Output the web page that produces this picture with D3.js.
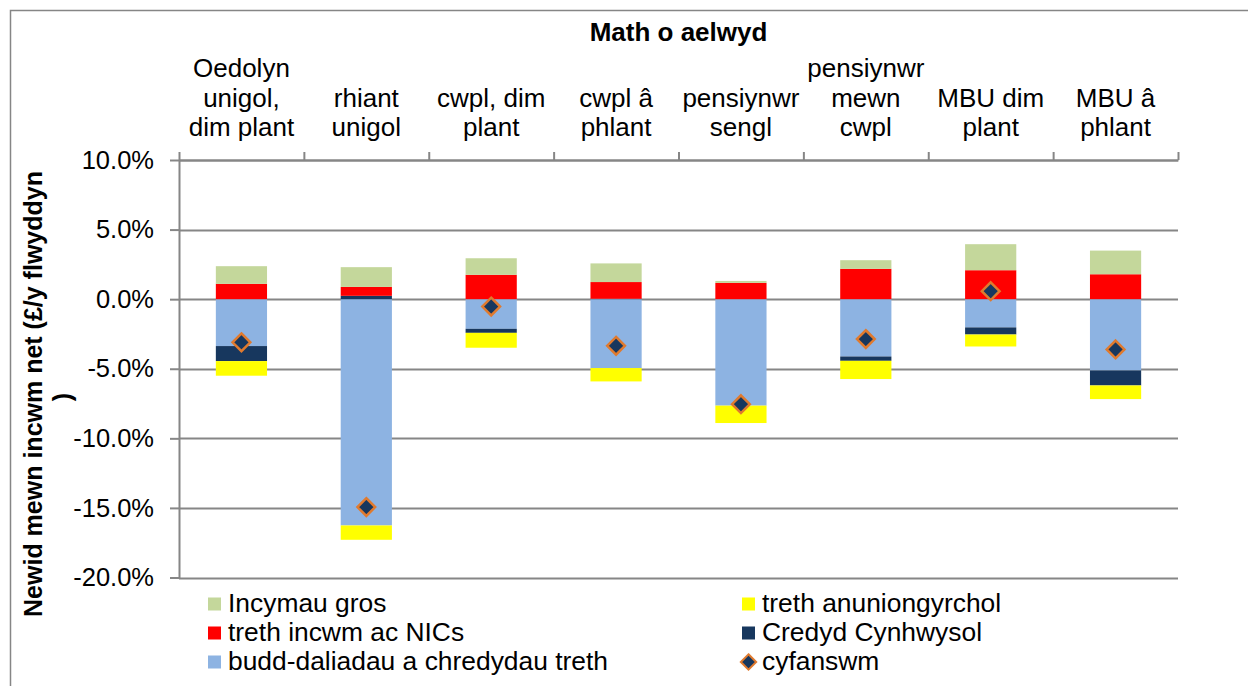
<!DOCTYPE html>
<html>
<head>
<meta charset="utf-8">
<script src="https://cdn.jsdelivr.net/npm/d3@7"></script>
<style>
  body { margin: 0; background: #fff; }
  svg { display: block; font-family: "Liberation Sans", Arial, sans-serif; }
</style>
</head>
<body>
<svg width="1248" height="686"></svg>
<script>
// categories (household type), each split into display lines
var categories = [
  ["Oedolyn", "unigol,", "dim plant"],
  ["rhiant", "unigol"],
  ["cwpl, dim", "plant"],
  ["cwpl \u00e2", "phlant"],
  ["pensiynwr", "sengl"],
  ["pensiynwr", "mewn", "cwpl"],
  ["MBU dim", "plant"],
  ["MBU \u00e2", "phlant"]
];

// series values, % change in net income
var incymauGros    = [1.27, 1.42, 1.19, 1.34, 0.14, 0.62, 1.87, 1.70];
var trethAnun      = [-1.05, -1.03, -1.07, -0.96, -1.25, -1.31, -0.86, -0.98];
var trethIncwm     = [1.10, 0.64, 1.75, 1.20, 1.17, 2.18, 2.08, 1.79];
var credydCyn      = [-1.08, 0.24, -0.29, 0.03, 0.00, -0.31, -0.51, -1.08];
var buddDaliadau   = [-3.37, -16.26, -2.13, -4.95, -7.65, -4.12, -2.03, -5.12];
var cyfanswm       = [-3.10, -14.94, -0.53, -3.35, -7.55, -2.87, 0.57, -3.61];

var yTicks = [10, 5, 0, -5, -10, -15, -20];

var seriesNames = {
  budd: "budd-daliadau a chredydau treth",
  credyd: "Credyd Cynhwysol",
  incwm: "treth incwm ac NICs",
  anun: "treth anuniongyrchol",
  gros: "Incymau gros"
};
var colors = {
  budd: "#8DB3E2",
  credyd: "#17375E",
  incwm: "#FF0000",
  anun: "#FFFF00",
  gros: "#C4D79B"
};

var svg = d3.select("svg"),
  width = +svg.attr("width"),
  height = +svg.attr("height");

var gray = "#868686";

// outer frame (left + top only visible)
svg.append("path")
  .attr("d", "M10.5,686 L10.5,10.5 L1248,10.5")
  .attr("fill", "none")
  .attr("stroke", gray)
  .attr("stroke-width", 1.5);

var plotLeft = 179, plotRight = 1178, plotTop = 160, plotBottom = 577.5;

var x = d3.scaleBand()
  .domain(d3.range(categories.length))
  .range([plotLeft, plotRight])
  .paddingInner(0.59)
  .paddingOuter(0.295);

var y = d3.scaleLinear()
  .domain([-20, 10])
  .range([plotBottom, plotTop]);

// build table for the stack
var table = categories.map(function(c, i) {
  return {
    budd: buddDaliadau[i],
    credyd: credydCyn[i],
    incwm: trethIncwm[i],
    anun: trethAnun[i],
    gros: incymauGros[i]
  };
});
var keys = ["budd", "credyd", "incwm", "anun", "gros"];
var stacked = d3.stack().keys(keys).offset(d3.stackOffsetDiverging)(table);

// gridlines
svg.append("g")
  .selectAll("line")
  .data(yTicks)
  .enter()
  .append("line")
    .attr("x1", plotLeft)
    .attr("x2", plotRight)
    .attr("y1", function(d) { return Math.round(y(d)) + 0.5; })
    .attr("y2", function(d) { return Math.round(y(d)) + 0.5; })
    .attr("stroke", gray)
    .attr("stroke-width", 2);

// left axis
var yAxis = svg.append("g")
  .attr("transform", "translate(" + plotLeft + ",0)")
  .call(d3.axisLeft(y).tickValues(yTicks).tickSize(9).tickSizeOuter(0).tickPadding(16)
    .tickFormat(function(d) { return d.toFixed(1) + "%"; }));
yAxis.select(".domain").attr("stroke", gray).attr("stroke-width", 2);
yAxis.selectAll(".tick line").attr("stroke", gray).attr("stroke-width", 2);
yAxis.selectAll(".tick text")
  .attr("font-size", 25.5)
  .attr("fill", "#000")
  .attr("font-family", "Liberation Sans, Arial, sans-serif");

// top category axis with ticks at category boundaries
var xb = d3.scaleLinear().domain([0, categories.length]).range([plotLeft, plotRight]);
var xAxis = svg.append("g")
  .attr("transform", "translate(0," + plotTop + ")")
  .call(d3.axisTop(xb).ticks(categories.length).tickSize(8).tickSizeOuter(0).tickFormat(""));
xAxis.select(".domain").attr("stroke", gray).attr("stroke-width", 2);
xAxis.selectAll(".tick line").attr("stroke", gray).attr("stroke-width", 2);

// category labels
var catG = svg.append("g");
categories.forEach(function(lines, i) {
  var cx = x(i) + x.bandwidth() / 2;
  var t = catG.append("text")
    .attr("text-anchor", "middle")
    .attr("font-size", 26)
    .attr("fill", "#000");
  lines.forEach(function(line, j) {
    t.append("tspan")
      .attr("x", cx)
      .attr("y", 136 - (lines.length - 1 - j) * 29.5)
      .text(line);
  });
});

// title
svg.append("text")
  .attr("x", (plotLeft + plotRight) / 2)
  .attr("y", 41)
  .attr("text-anchor", "middle")
  .attr("font-size", 26)
  .attr("font-weight", "bold")
  .text("Math o aelwyd");

// y axis title
svg.append("text")
  .attr("transform", "translate(42,394) rotate(-90)")
  .attr("text-anchor", "middle")
  .attr("font-size", 25)
  .attr("font-weight", "bold")
  .text("Newid mewn incwm net (\u00a3/y flwyddyn");
svg.append("text")
  .attr("transform", "translate(71,397) rotate(-90)")
  .attr("text-anchor", "middle")
  .attr("font-size", 25)
  .attr("font-weight", "bold")
  .text(")");

// bars
svg.append("g")
  .selectAll("g")
  .data(stacked)
  .enter()
  .append("g")
    .attr("fill", function(d) { return colors[d.key]; })
  .selectAll("rect")
  .data(function(d) { return d; })
  .enter()
  .append("rect")
    .attr("x", function(d, i) { return x(i); })
    .attr("y", function(d) { return y(Math.max(d[0], d[1])); })
    .attr("height", function(d) { return Math.abs(y(d[0]) - y(d[1])); })
    .attr("width", x.bandwidth());

// total markers
var diamond = d3.symbol().type(d3.symbolDiamond2).size(200);
svg.append("g")
  .selectAll("path")
  .data(cyfanswm)
  .enter()
  .append("path")
    .attr("d", diamond)
    .attr("transform", function(d, i) {
      return "translate(" + (x(i) + x.bandwidth() / 2) + "," + y(d) + ")";
    })
    .attr("fill", "#17375E")
    .attr("stroke", "#E07A2E")
    .attr("stroke-width", 2.5);

// legend
var legendItems = [
  { key: "gros", col: 0, row: 0 },
  { key: "anun", col: 1, row: 0 },
  { key: "incwm", col: 0, row: 1 },
  { key: "credyd", col: 1, row: 1 },
  { key: "budd", col: 0, row: 2 },
  { key: "total", col: 1, row: 2 }
];
var legend = svg.append("g");
legendItems.forEach(function(it) {
  var lx = it.col === 0 ? 208 : 742;
  var ly = 604 + it.row * 29;
  if (it.key === "total") {
    legend.append("path")
      .attr("d", d3.symbol().type(d3.symbolDiamond2).size(150))
      .attr("transform", "translate(" + (lx + 6.5) + "," + ly + ")")
      .attr("fill", "#17375E")
      .attr("stroke", "#E07A2E")
      .attr("stroke-width", 2);
  } else {
    legend.append("rect")
      .attr("x", lx)
      .attr("y", ly - 6.5)
      .attr("width", 13)
      .attr("height", 13)
      .attr("fill", colors[it.key]);
  }
  legend.append("text")
    .attr("x", lx + 20)
    .attr("y", ly + 8)
    .attr("font-size", 26.4)
    .text(it.key === "total" ? "cyfanswm" : seriesNames[it.key]);
});
</script>
</body>
</html>
